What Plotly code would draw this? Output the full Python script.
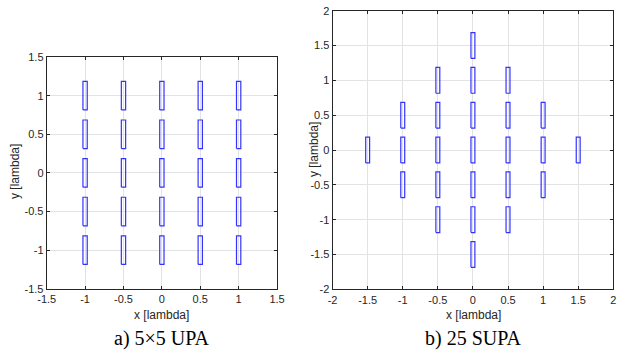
import plotly.graph_objects as go

# Element centres (in wavelengths)
upa_x = [-1, -0.5, 0, 0.5, 1] * 5
upa_y = [1] * 5 + [0.5] * 5 + [0] * 5 + [-0.5] * 5 + [-1] * 5

supa_x = [0,
          -0.5, 0, 0.5,
          -1, -0.5, 0, 0.5, 1,
          -1.5, -1, -0.5, 0, 0.5, 1, 1.5,
          -1, -0.5, 0, 0.5, 1,
          -0.5, 0, 0.5,
          0]
supa_y = [1.5,
          1, 1, 1,
          0.5, 0.5, 0.5, 0.5, 0.5,
          0, 0, 0, 0, 0, 0, 0,
          -0.5, -0.5, -0.5, -0.5, -0.5,
          -1, -1, -1,
          -1.5]

left_ticks = [-1.5, -1, -0.5, 0, 0.5, 1, 1.5]
left_ticktext = ["-1.5", "-1", "-0.5", "0", "0.5", "1", "1.5"]
right_ticks = [-2, -1.5, -1, -0.5, 0, 0.5, 1, 1.5, 2]
right_ticktext = ["-2", "-1.5", "-1", "-0.5", "0", "0.5", "1", "1.5", "2"]

HW = 0.028   # dipole half-width
HL = 0.185   # dipole half-length


def outline(cx, cy):
    xs, ys = [], []
    for x, y in zip(cx, cy):
        xs += [x - HW, x + HW, x + HW, x - HW, x - HW, None]
        ys += [y - HL, y - HL, y + HL, y + HL, y - HL, None]
    return xs, ys


fig = go.Figure()
lx, ly = outline(upa_x, upa_y)
rx, ry = outline(supa_x, supa_y)
line = dict(color="#3333ff", width=1.2)
fig.add_trace(go.Scatter(x=lx, y=ly, mode="lines", line=line, xaxis="x", yaxis="y",
                         hoverinfo="skip", showlegend=False))
fig.add_trace(go.Scatter(x=rx, y=ry, mode="lines", line=line, xaxis="x2", yaxis="y2",
                         hoverinfo="skip", showlegend=False))

axcommon = dict(showgrid=True, gridcolor="#e3e3e3", gridwidth=1, zeroline=False,
                showline=True, linecolor="#262626", linewidth=1, mirror="ticks",
                ticks="inside", ticklen=3, tickcolor="#262626", automargin=False,
                tickfont=dict(family="Liberation Sans, Arial", size=11, color="#262626"))

fig.update_layout(
    width=617, height=350,
    margin=dict(l=0, r=0, t=0, b=0),
    paper_bgcolor="white", plot_bgcolor="white",
    xaxis=dict(domain=[0.0757, 0.449], range=[-1.5, 1.5], anchor="y",
               tickvals=left_ticks, ticktext=left_ticktext, **axcommon),
    yaxis=dict(domain=[0.175, 0.837], range=[-1.5, 1.5], anchor="x",
               tickvals=left_ticks, ticktext=left_ticktext, **axcommon),
    xaxis2=dict(domain=[0.539, 0.994], range=[-2, 2], anchor="y2",
                tickvals=right_ticks, ticktext=right_ticktext, **axcommon),
    yaxis2=dict(domain=[0.1734, 0.9694], range=[-2, 2], anchor="x2",
                tickvals=right_ticks, ticktext=right_ticktext, **axcommon),
)

lab = dict(family="Liberation Sans, Arial", size=12, color="#262626")
cap = dict(family="Liberation Serif, Times New Roman", size=20, color="black")
anns = [
    dict(text="x [lambda]", x=162 / 617, y=1 - 315 / 350, font=lab),
    dict(text="x [lambda]", x=473 / 617, y=1 - 315 / 350, font=lab),
    dict(text="y [lambda]", x=15 / 617, y=1 - 172 / 350, font=lab, textangle=-90),
    dict(text="y [lambda]", x=314 / 617, y=1 - 150 / 350, font=lab, textangle=-90),
    dict(text="a) 5×5 UPA", x=162 / 617, y=1 - 338 / 350, font=cap),
    dict(text="b) 25 SUPA", x=473 / 617, y=1 - 338 / 350, font=cap),
]
for a in anns:
    fig.add_annotation(xref="paper", yref="paper", showarrow=False,
                       xanchor="center", yanchor="middle", **a)

fig.write_html("out.html",
               config={"displayModeBar": False},
               post_script="document.body.style.margin='0';"
                           "document.body.style.overflow='hidden';")
